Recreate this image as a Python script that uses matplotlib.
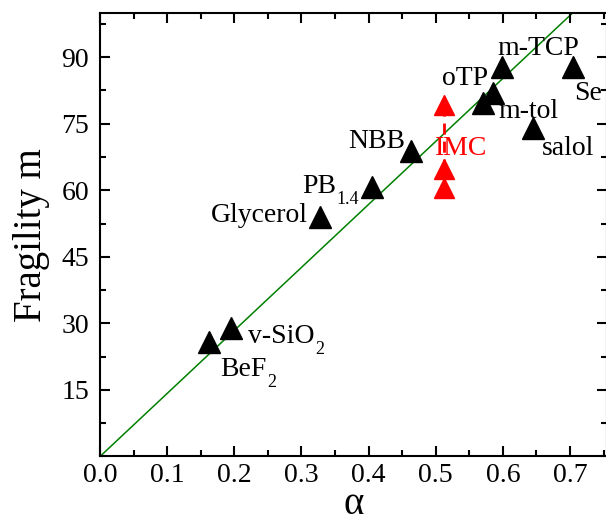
import numpy as np
import matplotlib
matplotlib.use("Agg")
import matplotlib.pyplot as plt
from matplotlib.ticker import MultipleLocator

plt.rcParams["font.family"] = ["Liberation Serif", "DejaVu Serif"]

# vidros: alfa e fragilidade m
names = ["BeF", "v-SiO", "Glycerol", "PB", "NBB",
         "m-tol", "oTP", "m-TCP", "salol", "Se"]
subs = ["2", "2", "", "1.4", "", "", "", "", "", ""]
alpha = [0.162, 0.195, 0.328, 0.405, 0.463, 0.570, 0.586, 0.598, 0.645, 0.705]
frag = [25.9, 29.0, 53.9, 60.8, 68.8, 79.7, 81.9, 87.7, 74.0, 87.7]

# posicao dos rotulos (alfa, m) e alinhamento horizontal
lab_x = [0.179, 0.220, 0.310, 0.301, 0.454, 0.593, 0.544, 0.652, 0.658, 0.706]
lab_y = [18.1, 25.5, 52.9, 59.4, 69.5, 76.3, 83.7, 90.5, 67.9, 80.3]
lab_ha = ["left", "left", "right", "left", "right",
          "left", "center", "center", "left", "left"]

# IMC (vermelho)
imc_alpha = [0.513, 0.513, 0.513]
imc_m = [79.2, 64.7, 60.4]

slope = 142.0  # reta m = 142*alfa

fig = plt.figure(figsize=(6.06, 5.25), dpi=100)
ax = fig.add_axes([0.165, 0.1305, 0.8366, 0.8453])

xs = np.array([0.0, 0.76])
ax.plot(xs, slope * xs, color="green", lw=1.1, zorder=1)

ax.plot(alpha, frag, ls="none", marker="^", ms=16.5, color="black", zorder=3)

ax.plot(imc_alpha[:2], imc_m[:2], color="red", ls=(0, (4, 2.5)), lw=2, zorder=2)
ax.plot(imc_alpha, imc_m, ls="none", marker="^", ms=14, color="red", zorder=3)
ax.text(0.499, 67.9, "IMC", color="red", fontsize=20, ha="left", va="baseline")

for n, sb, x, y, h in zip(names, subs, lab_x, lab_y, lab_ha):
    t = ax.text(x, y, n, fontsize=20, ha=h, va="baseline")
    if sb:
        # subscrito separado, mais baixo que o mathtext
        ax.annotate(sb, xy=(1, 0), xycoords=t, xytext=(0.5, -3.5),
                    textcoords="offset points", fontsize=13,
                    ha="left", va="baseline")

ax.set_xlim(0, 0.755)
ax.set_ylim(0, 100)
ax.xaxis.set_major_locator(MultipleLocator(0.1))
ax.xaxis.set_minor_locator(MultipleLocator(0.05))
ax.yaxis.set_major_locator(MultipleLocator(15))
ax.yaxis.set_minor_locator(MultipleLocator(7.5))
ax.set_yticks([15, 30, 45, 60, 75, 90])
ax.set_xticks(np.arange(0, 0.75, 0.1))
ax.set_xticklabels([f"{v:.1f}" for v in np.arange(0, 0.75, 0.1)])

ax.tick_params(which="both", direction="in", top=True, right=True,
               width=1.5, labelsize=20)
ax.tick_params(which="major", length=7)
ax.tick_params(which="minor", length=4)
ax.tick_params(axis="x", pad=5)
ax.tick_params(axis="y", pad=8)
for s in ax.spines.values():
    s.set_linewidth(1.5)

ax.set_xlabel("α", fontsize=28, labelpad=-2)
ax.set_ylabel("Fragility m", fontsize=28, labelpad=8)

fig.savefig("out.png", dpi=100)
